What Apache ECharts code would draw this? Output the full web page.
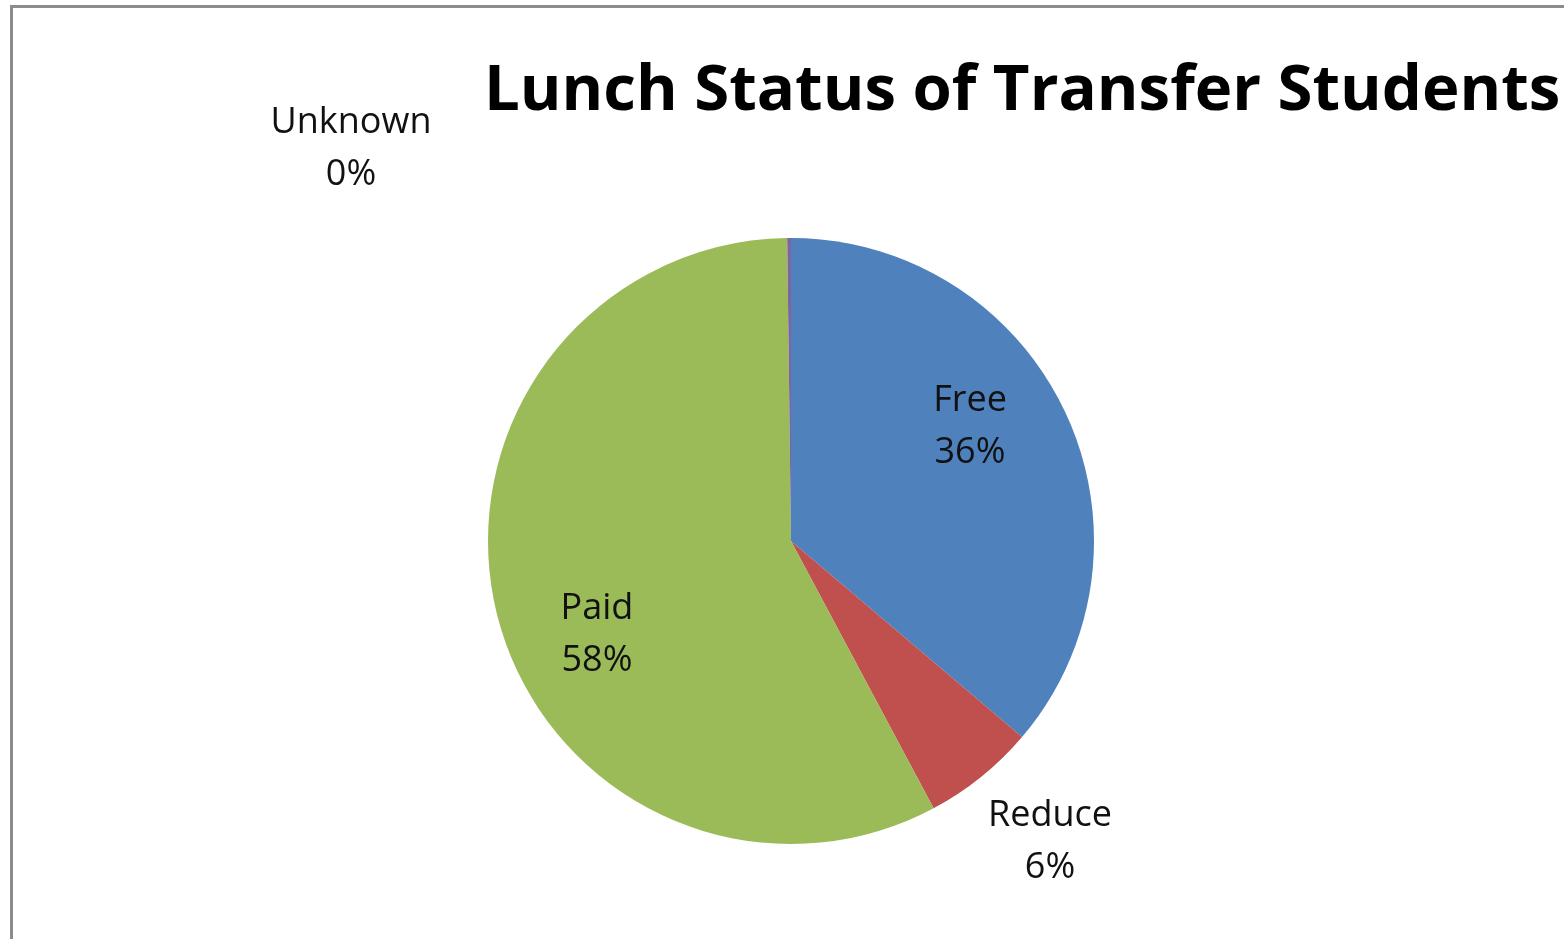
<!DOCTYPE html>
<html>
<head>
<meta charset="utf-8">
<script src="https://cdn.jsdelivr.net/npm/echarts@6/dist/echarts.min.js"></script>
<style>
  html, body { margin: 0; padding: 0; background: #fff; overflow: hidden; }
  #chart-main { width: 1564px; height: 939px; }
  .frame {
    position: absolute; left: 10px; top: 5px; width: 1600px; height: 1000px;
    border-left: 3px solid #8c8c8c; border-top: 3px solid #8c8c8c;
    pointer-events: none;
  }
</style>
</head>
<body>
<div id="chart-main"></div>
<div class="frame"></div>
<script>
// lunch status shares (clockwise from 12 o'clock)
const categories = ["Free", "Reduce", "Paid", "Unknown"];
const shares = [36.2, 6.0, 57.6, 0.2];
const sliceColors = ["#4F81BD", "#C0504D", "#9BBB59", "#8064A2"];

// where Excel put the data labels (centre of each label box)
const labelSpots = [
  { x: 970, y: 427 },
  { x: 1050, y: 842 },
  { x: 597, y: 635 },
  { x: 351, y: 149 },
];

var myChart = echarts.init(document.getElementById("chart-main"));

var option = {
  backgroundColor: "#fff",
  title: {
    text: "Lunch Status of Transfer Students",
    left: 484,
    top: 59,
    padding: 0,
    textStyle: {
      fontFamily: "Open Sans",
      fontWeight: "bold",
      fontSize: 63.5,
      lineHeight: 66,
      color: "#000",
    },
  },
  series: [
    {
      name: "Lunch Status",
      type: "pie",
      center: [791, 541],
      radius: 303,
      startAngle: 90,
      clockwise: true,
      avoidLabelOverlap: false,
      silent: true,
      data: categories.map((c, i) => ({
        name: c,
        value: shares[i],
        itemStyle: { color: sliceColors[i] },
      })),
      label: {
        show: true,
        position: "outside",
        formatter: (p) => p.name + "\n" + Math.round(p.percent) + "%",
        fontFamily: "Open Sans",
        fontSize: 36,
        lineHeight: 52,
        color: "#111",
        align: "center",
      },
      labelLine: { show: false },
      labelLayout: (params) => ({
        x: labelSpots[params.dataIndex].x,
        y: labelSpots[params.dataIndex].y,
        align: "center",
        verticalAlign: "middle",
      }),
    },
  ],
};

option && myChart.setOption(option);
</script>
</body>
</html>
